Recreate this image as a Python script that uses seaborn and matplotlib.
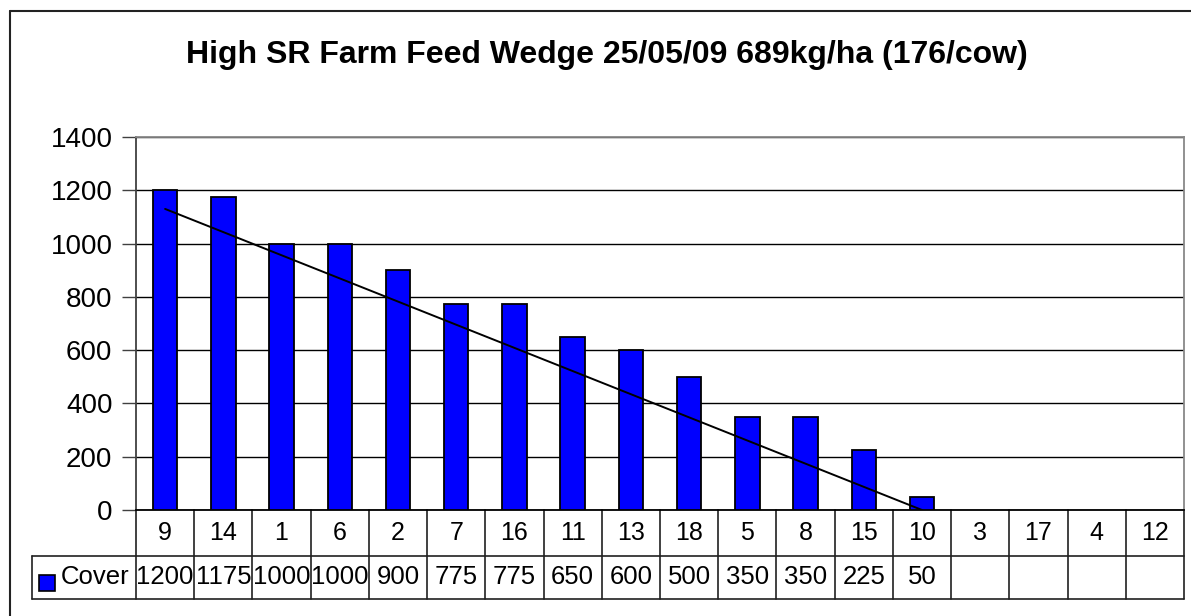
import numpy as np
import pandas as pd
import seaborn as sns
import matplotlib.pyplot as plt
from matplotlib.lines import Line2D
from matplotlib.patches import Rectangle

# feed wedge data: paddocks sorted by cover (kg DM/ha)
paddocks = ['9', '14', '1', '6', '2', '7', '16', '11', '13', '18', '5', '8', '15', '10', '3', '17', '4', '12']
cover = [1200, 1175, 1000, 1000, 900, 775, 775, 650, 600, 500, 350, 350, 225, 50,
         np.nan, np.nan, np.nan, np.nan]
series_name = 'Cover'

# wedge line, start and end paddock
trend_paddocks = ['9', '10']
trend_values = [1130, 0]

yticks = [0, 200, 400, 600, 800, 1000, 1200, 1400]
title = 'High SR Farm Feed Wedge 25/05/09 689kg/ha (176/cow)'

df = pd.DataFrame({'Paddock': paddocks, series_name: cover})

sns.set_style('white')
plt.rcParams['font.family'] = ['Liberation Sans', 'DejaVu Sans']
plt.rcParams['text.color'] = 'black'
plt.rcParams['ytick.labelcolor'] = 'black'

W, H = 1191, 616
fig = plt.figure(figsize=(W / 100, H / 100), dpi=100)
ax = fig.add_axes([136 / W, (H - 510) / H, (1184 - 136) / W, (510 - 137) / H])

sns.barplot(data=df, x='Paddock', y=series_name, order=paddocks, color='#0000ff',
            saturation=1, edgecolor='black', linewidth=1.3, width=0.42,
            errorbar=None, ax=ax, zorder=3)

# wedge line
tx = [paddocks.index(p) for p in trend_paddocks]
ax.plot(tx, trend_values, color='black', lw=1.4, zorder=4)

ax.set_xlim(-0.5, len(paddocks) - 0.5)
ax.set_ylim(yticks[0], yticks[-1])
ax.set_yticks(yticks)
ax.set_xticks([])
ax.set_xlabel('')
ax.set_ylabel('')
ax.tick_params(axis='y', labelsize=20, length=10, width=1, color='#404040', pad=7,
               left=True, labelcolor='black')
ax.yaxis.grid(True, color='black', lw=1)
ax.set_axisbelow(True)
for s in ['top', 'right']:
    ax.spines[s].set_color('#888888')
    ax.spines[s].set_linewidth(1.3)
ax.spines['left'].set_color('#404040')
ax.spines['left'].set_linewidth(1.3)
ax.spines['bottom'].set_color('black')
ax.spines['bottom'].set_linewidth(1.3)

# data table under the axis
ah = 510 - 137
aw = 1184 - 136
r1 = -(556 - 510) / ah
r2 = -(599 - 510) / ah
leg_x = (32 - 136) / aw
trans = ax.get_xaxis_transform()
tcol = '#202020'

for i in range(len(paddocks) + 1):
    ax.add_line(Line2D([i - 0.5, i - 0.5], [0, r2], transform=trans, color=tcol,
                       lw=1.2, clip_on=False))
for y in [r1, r2]:
    ax.add_line(Line2D([leg_x, 1], [y, y], transform=ax.transAxes, color=tcol,
                       lw=1.2, clip_on=False))
ax.add_line(Line2D([leg_x, leg_x], [r1, r2], transform=ax.transAxes, color=tcol,
                   lw=1.2, clip_on=False))

for i, (p, v) in enumerate(zip(paddocks, cover)):
    ax.text(i, r1 / 2, p, transform=trans, ha='center', va='center', fontsize=18)
    if not np.isnan(v):
        ax.text(i, (r1 + r2) / 2, f'{v:.0f}', transform=trans, ha='center',
                va='center', fontsize=18.5)

ax.add_patch(Rectangle(((39 - 136) / aw, -(591 - 510) / ah), 16 / aw, 16 / ah,
                       transform=ax.transAxes, facecolor='#0000ff',
                       edgecolor='black', lw=1.2, clip_on=False))
ax.text((61 - 136) / aw, (r1 + r2) / 2, series_name, transform=ax.transAxes,
        ha='left', va='center', fontsize=18.5)

fig.text(607 / W, 1 - 55 / H, title, ha='center', va='center', fontsize=23,
         fontweight='bold')

# chart area border (only top and left visible)
fig.add_artist(Line2D([10 / W, 1], [1 - 11 / H, 1 - 11 / H], color='#222222', lw=1.5))
fig.add_artist(Line2D([10 / W, 10 / W], [0, 1 - 11 / H], color='#222222', lw=1.5))

fig.savefig('out.png', dpi=100, facecolor='white')
